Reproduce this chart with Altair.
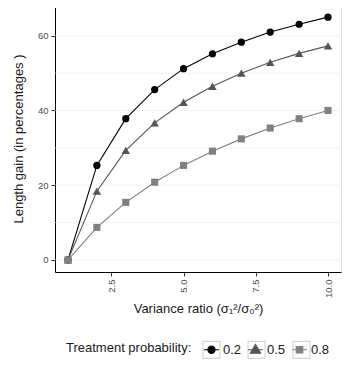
import altair as alt
import pandas as pd

ratio = [1, 2, 3, 4, 5, 6, 7, 8, 9, 10]
gain_02 = [0, 25.3, 37.8, 45.6, 51.2, 55.2, 58.3, 61.0, 63.1, 65.0]
gain_05 = [0, 18.4, 29.3, 36.7, 42.2, 46.5, 50.0, 52.9, 55.3, 57.3]
gain_08 = [0, 8.7, 15.4, 20.8, 25.3, 29.1, 32.4, 35.3, 37.8, 40.0]
probs = ["0.2", "0.5", "0.8"]
prob_nums = [0.2, 0.5, 0.8]
colors = ["#000000", "#555555", "#808080"]
shapes = ["circle", "triangle-up", "square"]
point_sizes = [52, 72, 50]
legend_shapes = [
    "M-0.88,0H0.88M0.42,0A0.42,0.42,0,1,1,-0.42,0A0.42,0.42,0,1,1,0.42,0Z",
    "M-0.88,0H0.88M0,-0.62L0.6,0.4L-0.6,0.4Z",
    "M-0.88,0H0.88M-0.38,-0.38H0.38V0.38H-0.38Z",
]

rows = []
for p, g in zip(probs, [gain_02, gain_05, gain_08]):
    for r, v in zip(ratio, g):
        rows.append({"ratio": r, "gain": v, "prob": p, "prob_num": float(p)})
df = pd.DataFrame(rows)

xscale = alt.Scale(domain=[0.55, 10.45], nice=False, zero=False)
yscale = alt.Scale(domain=[-3.25, 68.25], nice=False, zero=False)

x = alt.X("ratio:Q", scale=xscale,
          axis=alt.Axis(title="Variance ratio (σ\u2081\u00b2/σ\u2080\u00b2)", values=[2.5, 5.0, 7.5, 10.0],
                        format=".1f", labelAngle=270, grid=False, domainColor="black",
                        tickColor="#333333", labelColor="#4d4d4d", labelFontSize=9.5,
                        titleFontSize=13, titleFontWeight="normal", titleColor="#1a1a1a",
                        tickSize=4, labelBaseline="middle", labelAlign="right", labelPadding=3,
                        titlePadding=5))
y = alt.Y("gain:Q", scale=yscale,
          axis=alt.Axis(title="Length gain (in percentages )", values=[0, 20, 40, 60],
                        grid=False, domainColor="black", tickColor="#333333",
                        labelColor="#4d4d4d", labelFontSize=9.5, titleFontSize=13,
                        titleFontWeight="normal", titleColor="#1a1a1a", tickSize=4,
                        titlePadding=12, labelPadding=3))

# data-driven domain (sorted: 0.2, 0.5, 0.8) for the plotted marks
color = alt.Color("prob:N", scale=alt.Scale(range=colors), legend=None)

common = dict(title="Treatment probability:", orient="none", legendX=11, legendY=335,
              direction="horizontal", titleOrient="left", titleFontWeight="normal",
              titleFontSize=13, titleColor="#1a1a1a", labelFontSize=13,
              labelColor="#1a1a1a", symbolSize=289, columnPadding=3, titlePadding=10,
              labelOffset=2, titleBaseline="middle", symbolOpacity=1)

leg = alt.Legend(symbolStrokeWidth=1.2, zindex=2, **common)
box_leg = alt.Legend(symbolType="square", symbolStrokeColor="#d4d4d4",
                     symbolStrokeWidth=1.1, labelOpacity=0, titleOpacity=0, zindex=1,
                     **common)

grid_vals = pd.DataFrame({"v": [0, 10, 20, 30, 40, 50, 60]})
grid = alt.Chart(grid_vals).mark_rule(color="#ebebeb", strokeWidth=0.6).encode(
    y=alt.Y("v:Q", scale=yscale))

lines = alt.Chart(df).mark_line(strokeWidth=1.1).encode(x=x, y=y, color=color, detail="prob:N")

point_layers = []
for p, s, sz in zip(probs, shapes, point_sizes):
    point_layers.append(
        alt.Chart(df).transform_filter(alt.datum.prob == p).mark_point(
            filled=True, size=sz, opacity=1, shape=s).encode(x=x, y=y, color=color))

# legend key boxes (layer draws no marks; only its legend is shown)
box_layer = alt.Chart(df).transform_filter("datum.gain < -1000").mark_point(
    shape="square", filled=False, color="#d4d4d4", strokeWidth=1.1, opacity=1).encode(
    x=x, y=y,
    size=alt.Size("prob_num:O", scale=alt.Scale(domain=prob_nums, range=[289, 289, 289]),
                  legend=box_leg))

legend_layer = alt.Chart(df).mark_point(filled=True).encode(
    x=x, y=y,
    fill=alt.Fill("prob:N", scale=alt.Scale(domain=probs, range=colors), legend=leg),
    stroke=alt.Stroke("prob:N", scale=alt.Scale(domain=probs, range=colors), legend=leg),
    shape=alt.Shape("prob:N", scale=alt.Scale(domain=probs, range=legend_shapes), legend=leg),
    size=alt.value(0))

chart = alt.layer(grid, lines, *point_layers, box_layer, legend_layer).properties(
    width=286, height=267, padding={"left": 4, "top": -3, "right": 0, "bottom": 0}
).configure_view(stroke=None).configure(font="Liberation Sans")

chart.save("out.html", embed_options={"renderer": "svg", "actions": False})
